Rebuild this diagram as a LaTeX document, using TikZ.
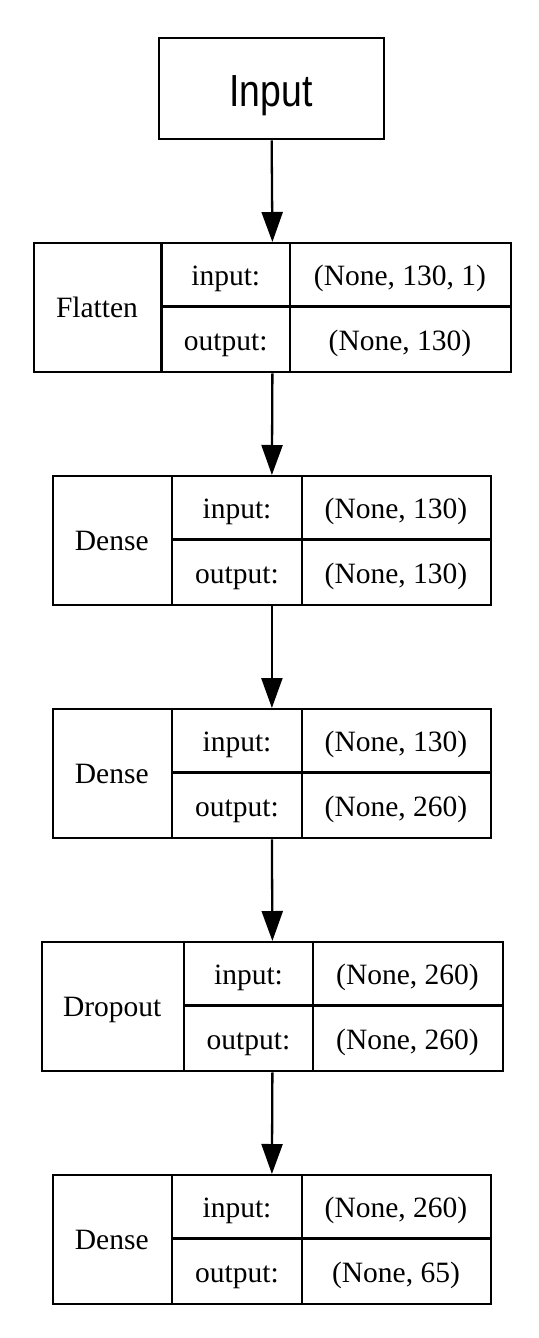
\documentclass[tikz,border=0pt]{standalone}
\usepackage{fontspec}
\setmainfont{Liberation Serif}
\newfontfamily\inputfont[FakeStretch=0.83]{Liberation Sans}
\usetikzlibrary{arrows.meta}
\tikzset{
  box/.style={draw, line width=2.3pt, inner sep=0pt, anchor=north west},
  divider/.style={line width=2.3pt},
  txt/.style={inner sep=0pt, anchor=base, font=\fontsize{29.5}{34}\selectfont},
  bigtxt/.style={inner sep=0pt, anchor=base, font=\inputfont\fontsize{45}{50}\selectfont},
  arr/.style={line width=2.3pt, -{Triangle[length=30pt,width=21pt]}}
}
% #1 name, #2 left, #3 first divider, #4 second divider, #5 right, #6 top,
% #7 layer label, #8 input shape, #9 output shape
\newcommand\mylayer[9]{%
  \node[box, minimum width={#5-#2}, minimum height=129] (#1) at (#2,#6) {};
  \draw[divider] (#3,#6) -- (#3,{#6+129});
  \draw[divider] (#4,#6) -- (#4,{#6+129});
  \draw[divider] (#3,{#6+64.5}) -- (#5,{#6+64.5});
  \node[txt] (#1-name) at ({(#2+#3)/2},{#6+64.5+11}) {#7};
  \node[txt] (#1-inl) at ({(#3+#4)/2},{#6+32+11}) {input:};
  \node[txt] (#1-inv) at ({(#4+#5)/2},{#6+32+11}) {#8};
  \node[txt] (#1-outl) at ({(#3+#4)/2},{#6+97+11}) {output:};
  \node[txt] (#1-outv) at ({(#4+#5)/2},{#6+97+11}) {#9};
}
\begin{document}
\begin{tikzpicture}[x=1pt,y=-1pt]
\useasboundingbox[fill=white] (0,0) rectangle (538,1338);
\node[box, minimum width=225, minimum height=101] (inp) at (158,37) {};
\node[bigtxt] (inp-name) at (271,106) {Input};
\mylayer{flat}{32.5}{161.5}{290}{510}{242}{Flatten}{(None, 130, 1)}{(None, 130)}
\mylayer{dense1}{51.5}{172}{302}{490}{475}{Dense}{(None, 130)}{(None, 130)}
\mylayer{dense2}{51.5}{172}{302}{490}{708}{Dense}{(None, 130)}{(None, 260)}
\mylayer{drop}{40.5}{184}{313}{502}{941}{Dropout}{(None, 260)}{(None, 260)}
\mylayer{dense3}{51.5}{172}{302}{490}{1174}{Dense}{(None, 260)}{(None, 65)}
\draw[arr] (inp.south) -- (flat.north);
\draw[arr] (flat.south) -- (dense1.north);
\draw[arr] (dense1.south) -- (dense2.north);
\draw[arr] (dense2.south) -- (drop.north);
\draw[arr] (drop.south) -- (dense3.north);
\end{tikzpicture}
\end{document}
